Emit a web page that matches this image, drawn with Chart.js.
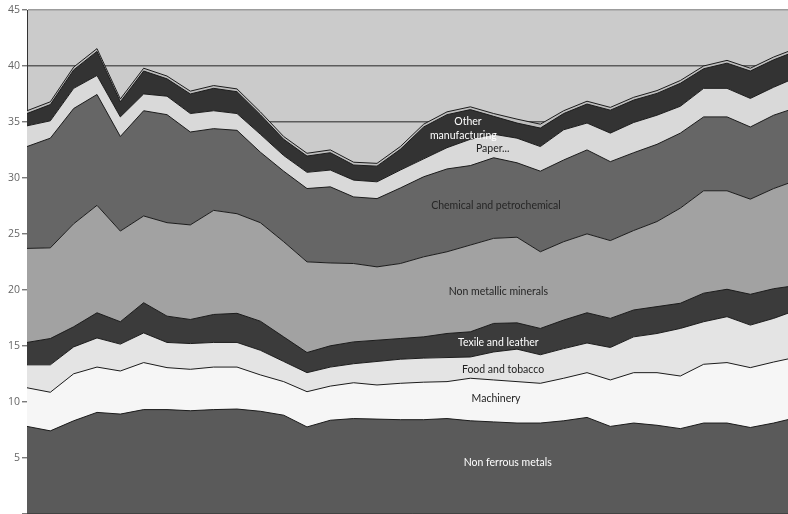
<!DOCTYPE html>
<html>
<head>
<meta charset="utf-8">
<script src="https://cdn.jsdelivr.net/npm/chart.js@4.4.0/dist/chart.umd.min.js"></script>
<style>
  html, body { margin: 0; padding: 0; background: #fff; overflow: hidden; }
  #wrap { position: absolute; left: 0; top: 0; width: 797px; height: 522px; }
</style>
</head>
<body>
<div id="wrap"><canvas id="myChart" width="797" height="522"></canvas></div>
<script>
// years (not shown on the axis in the original)
const years = [1971, 1972, 1973, 1974, 1975, 1976, 1977, 1978, 1979, 1980, 1981, 1982,
  1983, 1984, 1985, 1986, 1987, 1988, 1989, 1990, 1991, 1992, 1993, 1994, 1995, 1996,
  1997, 1998, 1999, 2000, 2001, 2002, 2003, 2004];

const yTicks = [0, 5, 10, 15, 20, 25, 30, 35, 40, 45];

// series, bottom to top
const nonFerrous = [7.8, 7.4, 8.3, 9.05, 8.9, 9.3, 9.3, 9.2, 9.3, 9.35, 9.15, 8.8, 7.75, 8.35, 8.5, 8.45, 8.4,
  8.4, 8.5, 8.3, 8.2, 8.1, 8.1, 8.3, 8.6, 7.8, 8.1, 7.9, 7.6, 8.1, 8.1, 7.7, 8.1, 8.6];
const machinery = [3.45, 3.45, 4.2, 4.05, 3.85, 4.2, 3.75, 3.7, 3.8, 3.75, 3.25, 3.0, 3.15, 3.05, 3.2, 3.05, 3.25,
  3.35, 3.3, 3.8, 3.75, 3.7, 3.55, 3.8, 4.0, 4.15, 4.5, 4.7, 4.7, 5.25, 5.4, 5.35, 5.45, 5.4];
const foodTobacco = [2.05, 2.45, 2.4, 2.6, 2.4, 2.65, 2.25, 2.3, 2.2, 2.2, 2.2, 1.8, 1.7, 1.7, 1.7, 2.1, 2.15,
  2.15, 2.15, 1.9, 2.5, 2.9, 2.55, 2.65, 2.65, 2.9, 3.2, 3.5, 4.25, 3.8, 4.1, 3.8, 3.9, 4.2];
const textileLeather = [2.0, 2.35, 1.8, 2.25, 2.0, 2.7, 2.35, 2.15, 2.5, 2.6, 2.6, 2.2, 1.8, 1.9, 1.95, 1.9, 1.85,
  1.9, 2.15, 2.25, 2.55, 2.35, 2.35, 2.55, 2.7, 2.6, 2.4, 2.4, 2.25, 2.55, 2.45, 2.75, 2.65, 2.2];
const nonMetallic = [8.4, 8.1, 9.2, 9.6, 8.1, 7.75, 8.35, 8.45, 9.3, 8.9, 8.8, 8.5, 8.1, 7.4, 7.0, 6.55, 6.7,
  7.15, 7.3, 7.75, 7.6, 7.65, 6.85, 7.0, 7.05, 6.95, 7.1, 7.6, 8.5, 9.15, 8.8, 8.5, 8.95, 9.4];
const chemical = [9.1, 9.8, 10.3, 9.9, 8.45, 9.4, 9.65, 8.3, 7.3, 7.45, 6.3, 6.3, 6.55, 6.8, 5.95, 6.1, 6.75,
  7.15, 7.4, 7.1, 7.2, 6.65, 7.2, 7.3, 7.5, 7.05, 6.95, 6.9, 6.7, 6.6, 6.6, 6.45, 6.55, 6.5];
const paper = [1.85, 1.55, 1.8, 1.7, 1.75, 1.5, 1.65, 1.65, 1.6, 1.5, 1.6, 1.4, 1.45, 1.5, 1.5, 1.5, 1.6,
  1.6, 1.9, 2.35, 2.1, 2.2, 2.2, 2.7, 2.4, 2.55, 2.7, 2.6, 2.4, 2.55, 2.55, 2.55, 2.5, 2.7];
const otherManufacturing = [1.1, 1.45, 1.65, 2.15, 1.35, 2.05, 1.55, 1.75, 2.0, 1.95, 1.75, 1.45, 1.45, 1.55, 1.35, 1.4, 1.85,
  2.85, 2.95, 2.65, 1.6, 1.35, 1.65, 1.45, 1.7, 2.05, 2.0, 1.95, 2.05, 1.75, 2.25, 2.45, 2.45, 2.35];
const thinTop = [0.25, 0.25, 0.25, 0.25, 0.25, 0.25, 0.25, 0.25, 0.25, 0.25, 0.25, 0.25, 0.25, 0.25, 0.25, 0.25, 0.25,
  0.25, 0.25, 0.25, 0.25, 0.35, 0.35, 0.25, 0.25, 0.25, 0.25, 0.25, 0.25, 0.25, 0.25, 0.25, 0.25, 0.25];

// text written inside the areas: [text, year index, value, colour]
const areaLabels = [
  ['Other', 18.9, 35.0, '#ffffff'],
  ['manufacturing', 18.7, 33.8, '#ffffff'],
  ['Paper...', 19.96, 32.6, '#222222'],
  ['Chemical and petrochemical', 20.1, 27.55, '#262626'],
  ['Non metallic minerals', 20.2, 19.8, '#262626'],
  ['Texile and leather', 20.2, 15.3, '#ffffff'],
  ['Food and tobacco', 20.4, 12.9, '#222222'],
  ['Machinery', 20.1, 10.3, '#222222'],
  ['Non ferrous metals', 20.6, 4.6, '#ffffff']
];

const plotBackground = {
  id: 'plotBackground',
  beforeDraw(chart) {
    const a = chart.chartArea;
    const c = chart.ctx;
    c.save();
    c.fillStyle = '#cbcbcb';
    c.fillRect(a.left, a.top, a.right - a.left, a.bottom - a.top);
    c.restore();
  }
};

const areaText = {
  id: 'areaText',
  afterDatasetsDraw(chart) {
    const c = chart.ctx;
    const x = chart.scales.x;
    const y = chart.scales.y;
    c.save();
    c.font = '10.5px Lato';
    c.textAlign = 'center';
    c.textBaseline = 'middle';
    areaLabels.forEach((l) => {
      c.fillStyle = l[3];
      c.fillText(l[0], x.getPixelForValue(l[1]), y.getPixelForValue(l[2]));
    });
    c.restore();
  }
};

function area(label, data, color, fill) {
  return {
    label: label,
    data: data,
    backgroundColor: color,
    borderColor: '#1c1c1c',
    borderWidth: 1,
    pointRadius: 0,
    tension: 0,
    fill: fill
  };
}

const ctx = document.getElementById('myChart').getContext('2d');
const myChart = new Chart(ctx, {
  type: 'line',
  data: {
    labels: years,
    datasets: [
      area('Non ferrous metals', nonFerrous, '#5a5a5a', 'origin'),
      area('Machinery', machinery, '#f6f6f6', '-1'),
      area('Food and tobacco', foodTobacco, '#e4e4e4', '-1'),
      area('Textile and leather', textileLeather, '#3b3b3b', '-1'),
      area('Non metallic minerals', nonMetallic, '#a2a2a2', '-1'),
      area('Chemical and petrochemical', chemical, '#666666', '-1'),
      area('Paper', paper, '#d9d9d9', '-1'),
      area('Other manufacturing', otherManufacturing, '#333333', '-1'),
      area('Other', thinTop, '#bdbdbd', '-1')
    ]
  },
  options: {
    responsive: false,
    animation: false,
    layout: { padding: { top: 10, right: 0, bottom: 0, left: 0 } },
    plugins: {
      legend: { display: false },
      tooltip: { enabled: false }
    },
    scales: {
      x: {
        grid: { drawOnChartArea: false, tickLength: 4, color: '#555' },
        border: { color: '#333', width: 1 },
        ticks: { display: false },
        afterFit(scale) { scale.height = 8; }
      },
      y: {
        stacked: true,
        min: 0,
        max: 45,
        afterBuildTicks(scale) { scale.ticks = yTicks.map((v) => ({ value: v })); },
        ticks: {
          padding: 2,
          color: '#666',
          font: { family: 'Open Sans', size: 10.5 },
          callback: (v) => (v === 0 ? '' : v)
        },
        grid: {
          color: (c) => (c.tick && c.tick.value === 45 ? '#9c9c9c' : '#5c5c5c'),
          lineWidth: 1.6,
          tickLength: 5,
          tickColor: '#444',
          tickWidth: 1
        },
        border: { color: '#333', width: 1 },
        afterFit(scale) { scale.width = 27; }
      }
    }
  },
  plugins: [plotBackground, areaText]
});
</script>
</body>
</html>
